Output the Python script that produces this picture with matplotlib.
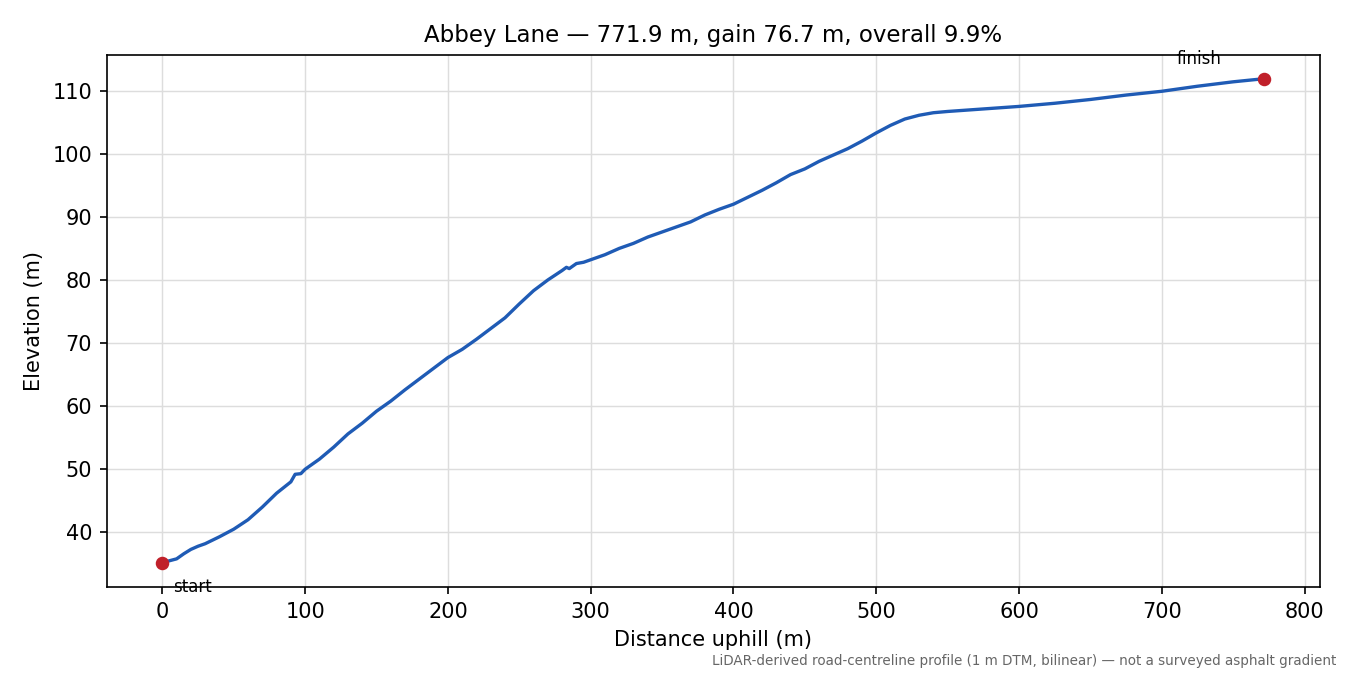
import matplotlib
matplotlib.use("Agg")
import matplotlib.pyplot as plt

distance = [0, 5, 10, 15, 20, 25, 30, 40, 50, 60, 70, 80, 90, 93, 97, 100, 110, 120, 130, 140, 150,
            160, 170, 180, 190, 200, 210, 220, 230, 240, 250, 260, 270, 280, 283, 285, 290, 295,
            300, 310, 320, 330, 340, 350, 360, 370, 380, 390, 400, 410, 420, 430, 440, 450, 460,
            470, 480, 490, 500, 510, 520, 530, 540, 550, 575, 600, 625, 650, 675, 700, 725, 750, 771.9]
elevation = [35.2, 35.5, 35.8, 36.6, 37.3, 37.8, 38.2, 39.3, 40.5, 42.0, 44.0, 46.2, 48.0, 49.2, 49.3,
             50.0, 51.6, 53.5, 55.6, 57.3, 59.2, 60.8, 62.6, 64.3, 66.0, 67.7, 69.0, 70.6, 72.3, 74.0,
             76.2, 78.3, 80.0, 81.5, 82.0, 81.8, 82.6, 82.8, 83.2, 84.0, 85.0, 85.8, 86.8, 87.6, 88.4,
             89.2, 90.3, 91.2, 92.0, 93.1, 94.2, 95.4, 96.7, 97.6, 98.8, 99.8, 100.8, 102.0, 103.3,
             104.5, 105.5, 106.1, 106.5, 106.7, 107.1, 107.5, 108.0, 108.6, 109.3, 109.9, 110.7,
             111.4, 111.9]

fig = plt.figure(figsize=(9, 4.5), dpi=150)
ax = fig.add_axes([0.079, 0.130, 0.899, 0.789])
ax.plot(distance, elevation, color="#1f5bb5", lw=1.6, zorder=2)
ax.scatter([distance[0], distance[-1]], [elevation[0], elevation[-1]], color="#c0202a", s=30, zorder=3)
ax.annotate("start", (distance[0], elevation[0]), xytext=(5, -14), textcoords="offset points", fontsize=8)
ax.annotate("finish", (distance[-1], elevation[-1]), xytext=(-42, 7), textcoords="offset points", fontsize=8)
ax.set_xlim(-39, 811)
ax.set_ylim(31.3, 115.7)
ax.grid(True, color="#dddddd", lw=0.7)
ax.set_axisbelow(True)
ax.set_xlabel("Distance uphill (m)")
ax.set_ylabel("Elevation (m)")
ax.set_title("Abbey Lane — 771.9 m, gain 76.7 m, overall 9.9%", fontsize=11)
fig.text(0.99, 0.01, "LiDAR-derived road-centreline profile (1 m DTM, bilinear) — not a surveyed asphalt gradient",
         ha="right", va="bottom", fontsize=6.5, color="#666666")
fig.savefig("out.png")
